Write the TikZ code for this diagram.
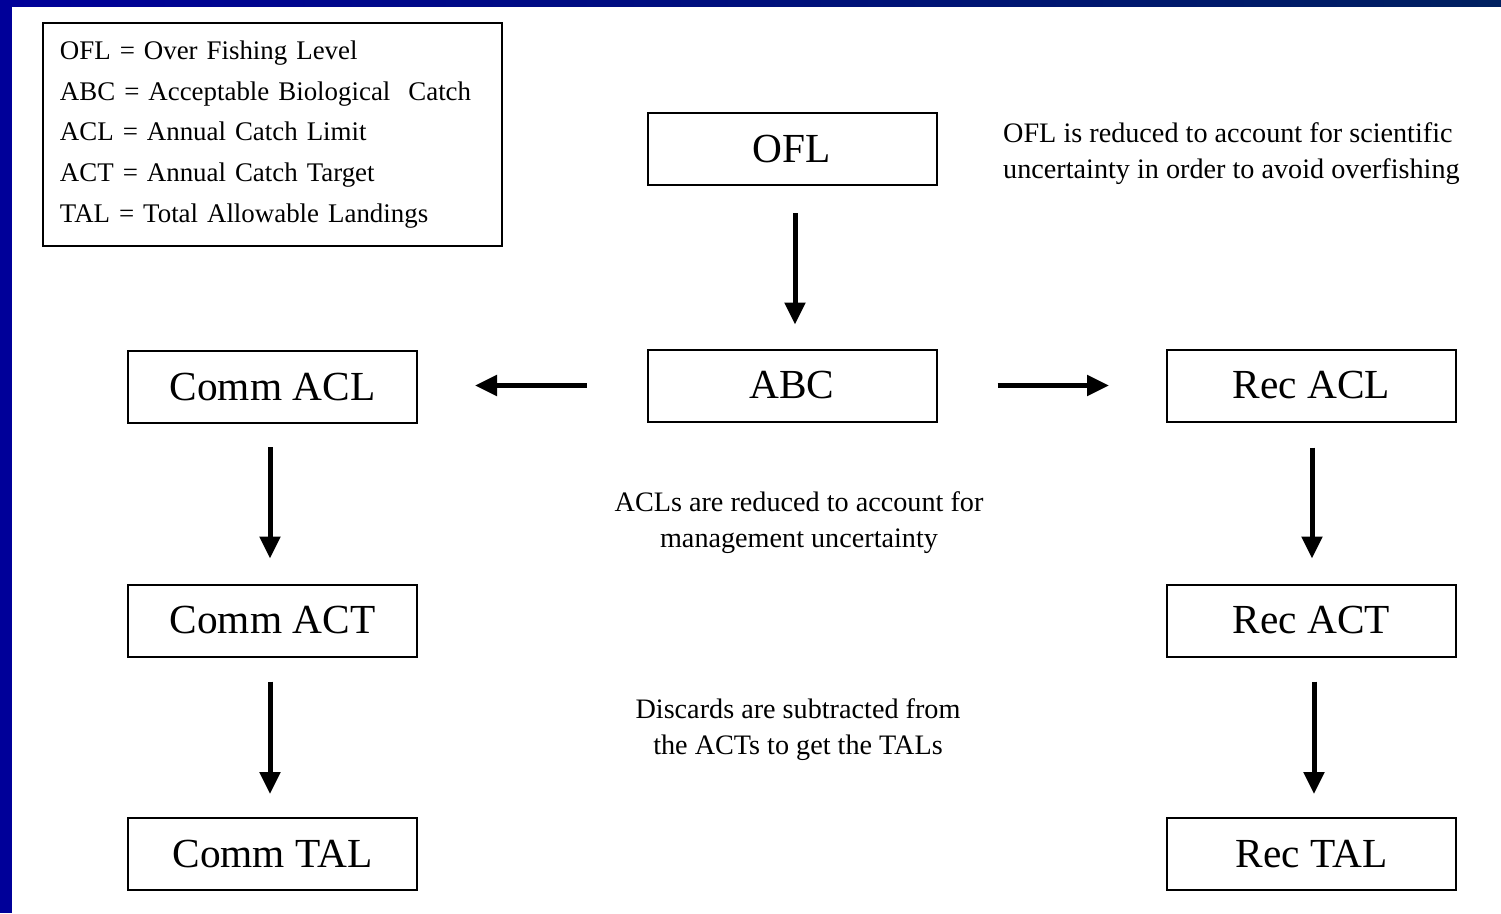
\documentclass[tikz,border=0pt]{standalone}
\usepackage{fontspec}
\setmainfont{Liberation Serif}
\usetikzlibrary{arrows.meta}
\definecolor{frameblue}{RGB}{0,0,153}
\definecolor{framenavy}{RGB}{0,32,96}
\tikzset{
  box/.style={draw=black, line width=2bp, minimum width=289bp, minimum height=72bp, inner sep=0pt, font=\fontsize{41.5}{41.5}\selectfont},
  flow/.style={line width=5bp, -{Triangle[length=22bp,width=20bp]}},
  note/.style={align=center, inner sep=0pt, font=\fontsize{28.3}{36}\selectfont},
}
\begin{document}
\begin{tikzpicture}[x=1bp,y=-1bp]
\useasboundingbox (0,0) rectangle (1501,913);
\fill[white] (0,0) rectangle (1501,913);
\shade[left color=frameblue, right color=framenavy] (0,0) rectangle (1501,6);
\fill[frameblue] (0,0) rectangle (12,913);

\node[draw=black, line width=2bp, minimum width=459bp, minimum height=223bp, text width=425bp, inner xsep=17bp, align=left, font=\fontsize{27}{41}\selectfont] (legend) at (272.5,134.5)
 {OFL = Over Fishing Level\\ABC = Acceptable Biological\ \ Catch\\ACL = Annual Catch Limit\\ACT = Annual Catch Target\\TAL = Total Allowable Landings};

\node[box] (ofl) at (792,149) {OFL};
\node[box] (abc) at (792,385.5) {ABC};
\node[box] (cacl) at (272.5,387) {Comm ACL};
\node[box] (racl) at (1311.5,385.5) {Rec ACL};
\node[box] (cact) at (272.5,620.5) {Comm ACT};
\node[box] (ract) at (1311.5,620.5) {Rec ACT};
\node[box] (ctal) at (272.5,854) {Comm TAL};
\node[box] (rtal) at (1311.5,854) {Rec TAL};

\node[note, align=left, anchor=west] (ofltext) at (1003,154) {OFL is reduced to account for scientific\\uncertainty in order to avoid overfishing};
\node[note] (acltext) at (799,523) {ACLs are reduced to account for\\management uncertainty};
\node[note] (acttext) at (798,730) {Discards are subtracted from\\the ACTs to get the TALs};

\draw[flow, shorten <=27bp, shorten >=24bp] (ofl.south -| 795,0) -- (abc.north -| 795,0);
\draw[flow, shorten <=60bp, shorten >=57bp] (abc.west) -- (cacl.east |- abc.west);
\draw[flow, shorten <=60bp, shorten >=57bp] (abc.east) -- (racl.west);
\draw[flow, shorten <=23bp, shorten >=25bp] (cacl.south -| 270,0) -- (cact.north -| 270,0);
\draw[flow, shorten <=24bp, shorten >=23bp] (cact.south -| 270,0) -- (ctal.north -| 270,0);
\draw[flow, shorten <=25bp, shorten >=25bp] (racl.south -| 1312,0) -- (ract.north -| 1312,0);
\draw[flow, shorten <=24bp, shorten >=23bp] (ract.south -| 1314,0) -- (rtal.north -| 1314,0);
\end{tikzpicture}
\end{document}
